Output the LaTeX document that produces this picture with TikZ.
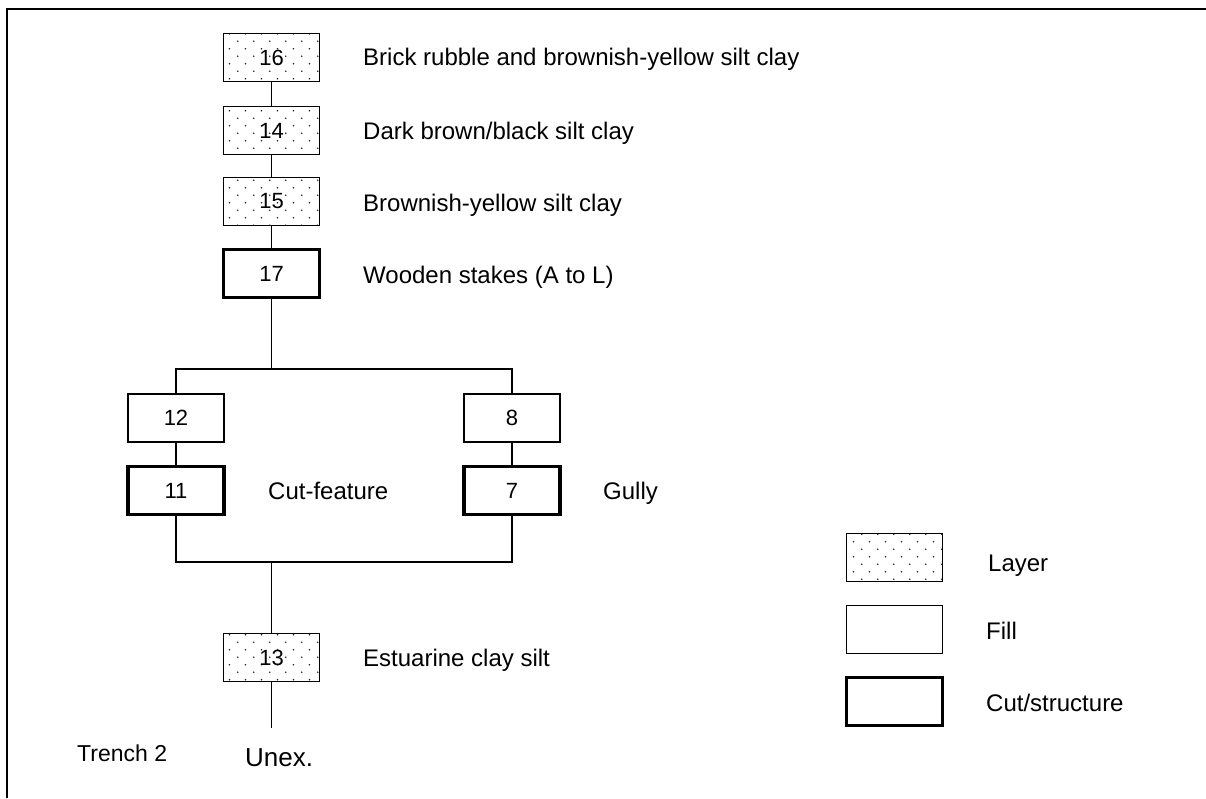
\documentclass[tikz,border=0pt]{standalone}
\usepackage{fontspec}
\setmainfont{Liberation Sans}
\usetikzlibrary{patterns.meta}

% staggered dot texture for layer units
\tikzdeclarepattern{
  name=layerdots,
  type=uncolored,
  bottom left={(0pt,0pt)},
  top right={(15.6pt,15.4pt)},
  tile size={(15.6pt,15.4pt)},
  code={
    \fill (3.9pt,3.85pt) circle (0.9pt);
    \fill (11.7pt,11.55pt) circle (0.9pt);
  }
}

\tikzset{
  unit/.style={draw, line width=1.8pt, minimum width=96pt, minimum height=48pt,
    inner sep=0pt, font=\fontsize{22}{26}\selectfont},
  layerunit/.style={unit, pattern=layerdots, pattern color=black!85},
  fillunit/.style={unit, fill=white},
  cutunit/.style={unit, line width=3.5pt},
  lbl/.style={anchor=base west, inner sep=0pt, font=\fontsize{24}{28}\selectfont},
  conn/.style={line width=1.8pt},
  frameline/.style={line width=2.5pt}
}

\begin{document}
\begin{tikzpicture}[x=1pt, y=-1pt]
\useasboundingbox (0,0) rectangle (1206,798);

% frame
\draw[frameline] (7,798) -- (7,9) -- (1210,9);

% stratigraphic units
\node[layerunit] (n16) at (271.5,57.5) {16};
\node[layerunit] (n14) at (271.5,130.5) {14};
\node[layerunit] (n15) at (271.5,201.5) {15};
\node[cutunit]   (n17) at (271.5,273.5) {17};
\node[fillunit]  (n12) at (176,418) {12};
\node[fillunit]  (n8)  at (512,418) {8};
\node[cutunit]   (n11) at (176,490.5) {11};
\node[cutunit]   (n7)  at (512,490.5) {7};
\node[layerunit] (n13) at (271.5,657.5) {13};

% descriptions
\node[lbl] (d16) at (363,65)  {Brick rubble and brownish-yellow silt clay};
\node[lbl] (d14) at (363,139) {Dark brown/black silt clay};
\node[lbl] (d15) at (363,211) {Brownish-yellow silt clay};
\node[lbl] (d17) at (363,283) {Wooden stakes (A to L)};
\node[lbl] (d11) at (268,499) {Cut-feature};
\node[lbl] (d7)  at (603,499) {Gully};
\node[lbl] (d13) at (363,666) {Estuarine clay silt};
\node[lbl, font=\fontsize{23}{27}\selectfont] (trench) at (77,761) {Trench 2};
\node[lbl, font=\fontsize{26}{30}\selectfont] (unex) at (245,766) {Unex.};

% connectors
\coordinate (split) at (271.5,369);
\coordinate (merge) at (271.5,562);
\coordinate (bottom) at (271.5,728);
\draw[conn] (n16.south) -- (n14.north);
\draw[conn] (n14.south) -- (n15.north);
\draw[conn] (n15.south) -- (n17.north);
\draw[conn] (n17.south) -- (split);
\draw[conn] (n12.north) |- (split) -| (n8.north);
\draw[conn] (n12.south) -- (n11.north);
\draw[conn] (n8.south) -- (n7.north);
\draw[conn] (n11.south) |- (merge) -| (n7.south);
\draw[conn] (merge) -- (n13.north);
\draw[conn] (n13.south) -- (bottom);

% key
\node[layerunit] (kLayer) at (894.5,557.5) {};
\node[fillunit]  (kFill)  at (894.5,629.5) {};
\node[cutunit]   (kCut)   at (894.5,701.5) {};
\node[lbl] (tLayer) at (988,571) {Layer};
\node[lbl] (tFill)  at (986,639) {Fill};
\node[lbl] (tCut)   at (986,711) {Cut/structure};
\end{tikzpicture}
\end{document}
